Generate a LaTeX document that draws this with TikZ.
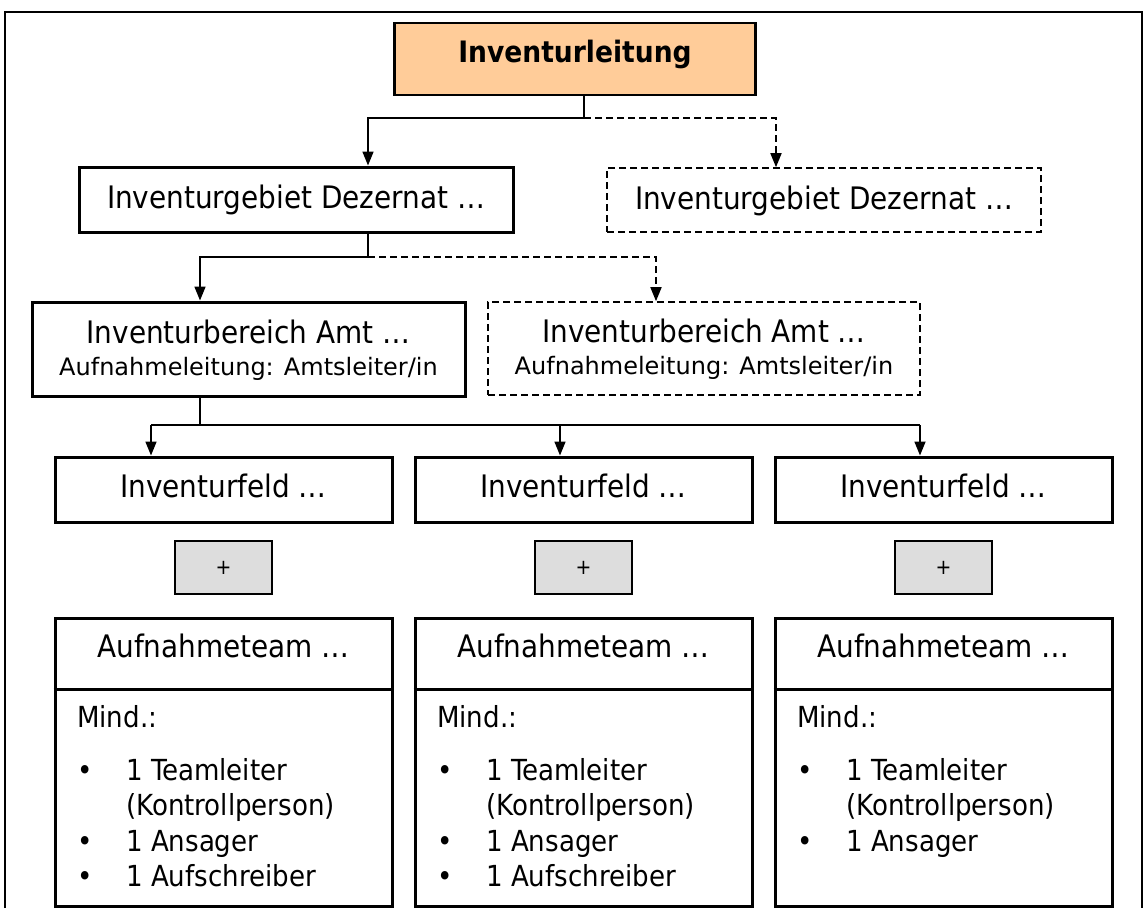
\documentclass[tikz,border=0pt]{standalone}
\usepackage{fontspec}
\setmainfont{DejaVu Sans Condensed}
\newfontfamily\regfont{DejaVu Sans}
\usetikzlibrary{arrows.meta}
\definecolor{leadfill}{HTML}{FFCC99}
\definecolor{plusfill}{HTML}{DDDDDD}
\begin{document}
\begin{tikzpicture}[x=1pt,y=-1pt,
  solidbox/.style={draw, line width=3pt, inner sep=0pt},
  dashbox/.style={draw, line width=1.6pt, dash pattern=on 7pt off 4pt, inner sep=0pt},
  plusbox/.style={draw, line width=2pt, fill=plusfill, inner sep=0pt, minimum width=97pt, minimum height=53pt, font=\fontsize{21}{25}\selectfont},
  bigtext/.style={inner sep=0pt, font=\fontsize{31}{37}\selectfont},
  boldtext/.style={inner sep=0pt, font=\bfseries\fontsize{29.5}{35}\selectfont},
  subtext/.style={inner sep=0pt, font=\regfont\fontsize{24}{28}\selectfont},
  bodytext/.style={inner sep=0pt, anchor=base west, font=\fontsize{29}{35}\selectfont},
  conn/.style={line width=1.7pt},
  dconn/.style={line width=1.7pt, dash pattern=on 7pt off 4pt},
  tip/.style={-{Triangle[width=11pt,length=14pt]}}
]
\useasboundingbox (0,0) rectangle (1146,908);
\draw[line width=2pt] (5,908) -- (5,12) -- (1142,12) -- (1142,908);

% top
\node[solidbox, line width=2.6pt, fill=leadfill, minimum width=361pt, minimum height=72pt] (lead) at (575,59) {};
\node[boldtext, anchor=base] (leadt) at (575,62) {Inventurleitung};

% Dezernat
\node[solidbox, minimum width=434pt, minimum height=65pt] (dez1) at (296,199.5) {};
\node[bigtext, anchor=base] (dez1t) at (296,208) {Inventurgebiet Dezernat …};
\node[dashbox, minimum width=434pt, minimum height=64pt] (dez2) at (824,200) {};
\node[bigtext, anchor=base] (dez2t) at (824,209) {Inventurgebiet Dezernat …};

% Amt
\node[solidbox, minimum width=433pt, minimum height=94pt] (amt1) at (248.5,349) {};
\node[bigtext, anchor=base] (amt1t) at (248.5,343) {Inventurbereich Amt …};
\node[subtext, anchor=base] (amt1s) at (248.5,375) {Aufnahmeleitung: Amtsleiter/in};
\node[dashbox, minimum width=432pt, minimum height=93pt] (amt2) at (704,348.5) {};
\node[bigtext, anchor=base] (amt2t) at (704,342) {Inventurbereich Amt …};
\node[subtext, anchor=base] (amt2s) at (704,374) {Aufnahmeleitung: Amtsleiter/in};

% connectors level 1
\coordinate (j1) at (584,118);
\coordinate (a1) at (368,118);
\coordinate (b1) at (776,118);
\draw[conn] (lead.south -| j1) -- (j1);
\draw[conn, tip] (j1) -- (a1) -- (a1 |- dez1.north);
\draw[dconn, tip] (j1) -- (b1) -- (b1 |- dez2.north);

% connectors level 2
\coordinate (j2) at (368,257);
\coordinate (a2) at (200,257);
\coordinate (b2) at (656,257);
\draw[conn] (dez1.south -| j2) -- (j2);
\draw[conn, tip] (j2) -- (a2) -- (a2 |- amt1.north);
\draw[dconn, tip] (j2) -- (b2) -- (b2 |- amt2.north);

% rows below
\coordinate (dv) at (0,689);
\foreach \i/\cx in {1/223.5,2/583.5,3/943.5} {
  \pgfmathsetmacro\lx{\cx-168.5}
  \node[solidbox, minimum width=337pt, minimum height=65pt] (feld\i) at (\cx,489.5) {};
  \node[bigtext, anchor=base] (feldt\i) at (\cx,497) {Inventurfeld …};
  \node[plusbox] (plus\i) at (\cx,567.5) {+};
  \node[solidbox, minimum width=337pt, minimum height=288pt] (team\i) at (\cx,762) {};
  \node[bigtext, anchor=base] (teamt\i) at (\cx,657) {Aufnahmeteam …};
  \draw[line width=3pt] (team\i.west |- dv) -- (team\i.east |- dv);
  \node[bodytext] (mind\i) at ({\lx+22},727) {Mind.:};
  \node[bodytext] (b1\i) at ({\lx+22},780) {•};
  \node[bodytext] (t1\i) at ({\lx+71},780) {1 Teamleiter};
  \node[bodytext] (t2\i) at ({\lx+71},815.5) {(Kontrollperson)};
  \node[bodytext] (b3\i) at ({\lx+22},851) {•};
  \node[bodytext] (t3\i) at ({\lx+71},851) {1 Ansager};
}
\foreach \i/\cx in {1/223.5,2/583.5} {
  \pgfmathsetmacro\lx{\cx-168.5}
  \node[bodytext] (b4\i) at ({\lx+22},886.5) {•};
  \node[bodytext] (t4\i) at ({\lx+71},886.5) {1 Aufschreiber};
}

% connectors level 3
\coordinate (j3) at (200,425);
\coordinate (a3) at (151,425);
\coordinate (m3) at (560,425);
\coordinate (c3) at (920,425);
\draw[conn] (amt1.south -| j3) -- (j3);
\draw[conn] (a3) -- (c3);
\draw[conn, tip] (a3) -- (a3 |- feld1.north);
\draw[conn, tip] (m3) -- (m3 |- feld2.north);
\draw[conn, tip] (c3) -- (c3 |- feld3.north);
\end{tikzpicture}
\end{document}
